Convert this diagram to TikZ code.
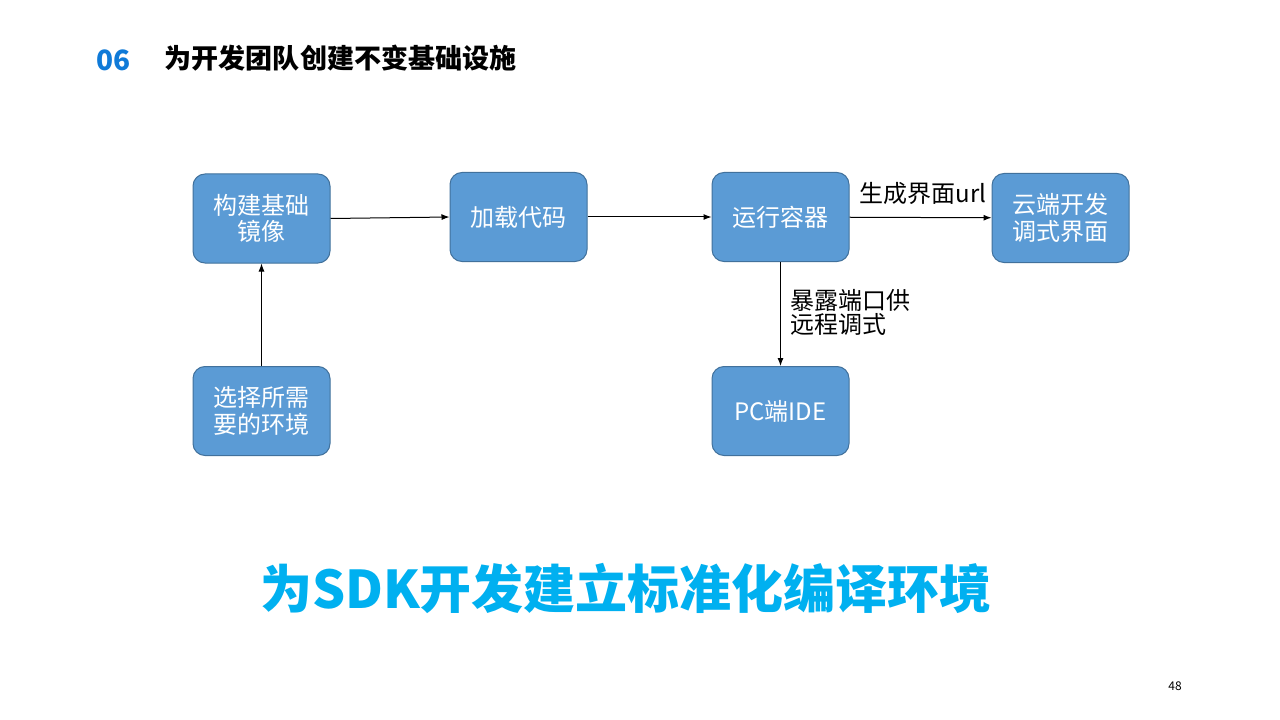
\documentclass[tikz,border=0pt]{standalone}
\usepackage{fontspec}
\setmainfont{Noto Sans CJK SC}
\usetikzlibrary{arrows.meta}
\definecolor{boxfill}{HTML}{5B9BD5}
\definecolor{boxline}{HTML}{41719C}
\definecolor{numblue}{HTML}{0F7AD8}
\definecolor{bigcyan}{HTML}{00B0F0}
\tikzset{
  stepbox/.style={draw=boxline, fill=boxfill, rounded corners=9pt, line width=0.75pt,
    minimum width=102.75pt, minimum height=66.75pt, align=center, text=white,
    font=\fontsize{18}{20}\selectfont},
  flow/.style={-{Latex[length=6pt,width=4.5pt]}, line width=0.75pt},
  lbl/.style={font=\fontsize{18}{18}\selectfont, text=black}
}
\begin{document}
\begin{tikzpicture}[x=0.75pt,y=-0.75pt]
                \useasboundingbox[fill=white] (0,0) rectangle (1280,720);
                \node[anchor=west, text=numblue, font=\fontsize{21}{24}\selectfont\bfseries] (num) at (92,60) {06};
                \node[anchor=west, font=\fontsize{20.3}{24}\selectfont\bfseries] (title) at (160,58) {为开发团队创建不变基础设施};
                \node[stepbox] (build) at (261.5,218.5) {构建基础\\镜像};
                \node[stepbox] (load) at (518.5,217) {加载代码};
                \node[stepbox] (run) at (780.5,217) {运行容器};
                \node[stepbox] (cloud) at (1060.5,218) {云端开发\\调式界面};
                \node[stepbox] (env) at (261.5,411) {选择所需\\要的环境};
                \node[stepbox] (ide) at (780.5,411) {PC端IDE};
                \draw[flow] (env) -- (build);
                \draw[flow] (build.east) -- (load.west);
                \draw[flow] (load) -- (run);
                \draw[flow] (run) -- node[lbl, above=6pt, xshift=2pt] {生成界面url} (cloud);
                \draw[flow] (run) -- node[lbl, right=4pt, align=left, yshift=1pt] {暴露端口供\\远程调式} (ide);
                \node[text=bigcyan, font=\fontsize{39}{42}\selectfont\bfseries] (slogan) at (626,588) {为SDK开发建立标准化编译环境};
                \node[font=\fontsize{9}{11}\selectfont] (page) at (1175,686) {48};
            \end{tikzpicture}
\end{document}
